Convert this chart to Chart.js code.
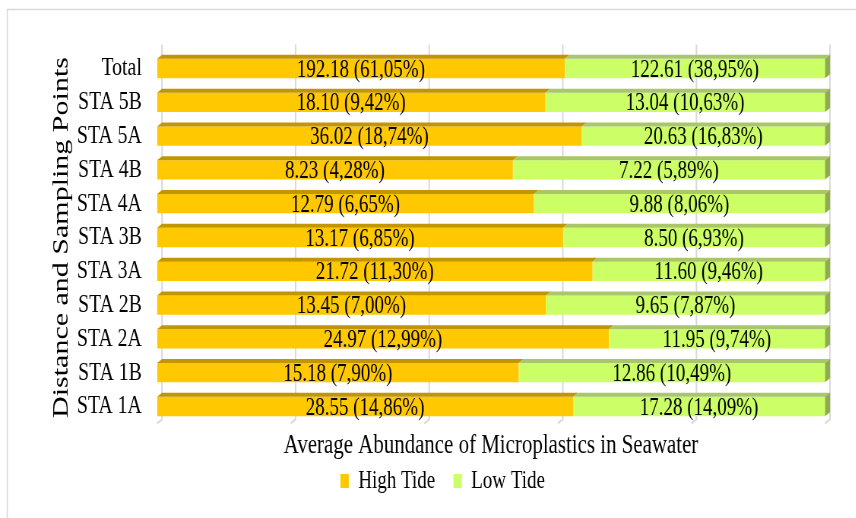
<!DOCTYPE html>
<html>
<head>
<meta charset="utf-8">
<script src="https://cdn.jsdelivr.net/npm/chart.js@4/dist/chart.umd.min.js"></script>
<style>
  html, body { margin: 0; padding: 0; background: #fff; overflow: hidden; }
  #wrap { width: 1126px; height: 518px; transform: scaleX(0.76); transform-origin: 0 0; }
</style>
</head>
<body>
<div id="wrap"><canvas id="c" width="1126" height="518"></canvas></div>
<script>
// Sampling stations, top to bottom
const stations = ['Total', 'STA 5B', 'STA 5A', 'STA 4B', 'STA 4A', 'STA 3B', 'STA 3A', 'STA 2B', 'STA 2A', 'STA 1B', 'STA 1A'];
// Average abundance at high tide and its share of the high-tide total (%)
const highTide    = [192.18, 18.10, 36.02, 8.23, 12.79, 13.17, 21.72, 13.45, 24.97, 15.18, 28.55];
const highTidePct = [61.05, 9.42, 18.74, 4.28, 6.65, 6.85, 11.30, 7.00, 12.99, 7.90, 14.86];
// Average abundance at low tide and its share of the low-tide total (%)
const lowTide     = [122.61, 13.04, 20.63, 7.22, 9.88, 8.50, 11.60, 9.65, 11.95, 12.86, 17.28];
const lowTidePct  = [38.95, 10.63, 16.83, 5.89, 8.06, 6.93, 9.46, 7.87, 9.74, 10.49, 14.09];
const seriesNames = ['High Tide', 'Low Tide'];

const FONT = "'Liberation Serif', 'Times New Roman', serif";
Chart.defaults.font.family = FONT;
Chart.defaults.color = '#000';

// each row is drawn as a 100% stacked bar
const rowTotal = stations.map((_, i) => highTide[i] + lowTide[i]);
const highShare = highTide.map((v, i) => v / rowTotal[i] * 100);
const lowShare = lowTide.map((v, i) => v / rowTotal[i] * 100);

const fmtLabel = (v, p) => v.toFixed(2) + ' (' + p.toFixed(2).replace('.', ',') + '%)';
const labelText = [
  highTide.map((v, i) => fmtLabel(v, highTidePct[i])),
  lowTide.map((v, i) => fmtLabel(v, lowTidePct[i]))
];

const DX = 6.6, DY = 4;            // depth of the 3-D bars
const topFace = ['#C29600', '#A9C76A'];
const sideFace = '#8DAD45';

const frame = {
  id: 'frame',
  beforeDraw(chart) {
    const { ctx, width, height } = chart;
    ctx.save();
    ctx.strokeStyle = '#D9D9D9';
    ctx.lineWidth = 1.6;
    ctx.beginPath();
    ctx.moveTo(9.5, height + 2);
    ctx.lineTo(9.5, 9.5);
    ctx.lineTo(width + 2, 9.5);
    ctx.stroke();
    ctx.restore();
  }
};

const bars3d = {
  id: 'bars3d',
  beforeDatasetsDraw(chart) {
    const { ctx, chartArea: a, scales: { x } } = chart;
    ctx.save();
    ctx.strokeStyle = '#D9D9D9';
    ctx.lineWidth = 2;
    x.ticks.forEach(t => {
      const px = x.getPixelForValue(t.value);
      ctx.beginPath();
      ctx.moveTo(px + DX, a.top - 7);
      ctx.lineTo(px + DX, a.bottom - DY);
      ctx.lineTo(px, a.bottom);
      ctx.stroke();
    });
    ctx.restore();
  },
  afterDatasetsDraw(chart) {
    const { ctx } = chart;
    const last = chart.data.datasets.length - 1;
    ctx.save();
    chart.data.datasets.forEach((ds, di) => {
      chart.getDatasetMeta(di).data.forEach((bar, i) => {
        const { x: xe, y, base, height } = bar.getProps(['x', 'y', 'base', 'height'], true);
        const l = Math.min(base, xe), r = Math.max(base, xe);
        const t = y - height / 2, b = y + height / 2;
        ctx.fillStyle = topFace[di];
        ctx.beginPath();
        ctx.moveTo(l, t); ctx.lineTo(r, t); ctx.lineTo(r + DX, t - DY); ctx.lineTo(l + DX, t - DY);
        ctx.closePath(); ctx.fill();
        if (di === last) {
          ctx.fillStyle = sideFace;
          ctx.beginPath();
          ctx.moveTo(r, t); ctx.lineTo(r + DX, t - DY); ctx.lineTo(r + DX, b - DY); ctx.lineTo(r, b);
          ctx.closePath(); ctx.fill();
        }
      });
    });
    ctx.font = '25px ' + FONT;
    ctx.fillStyle = '#000';
    ctx.textAlign = 'center';
    ctx.textBaseline = 'middle';
    chart.data.datasets.forEach((ds, di) => {
      chart.getDatasetMeta(di).data.forEach((bar, i) => {
        const { x: xe, y, base } = bar.getProps(['x', 'y', 'base'], true);
        ctx.fillText(labelText[di][i], (base + xe) / 2, y + 1.5);
      });
    });
    ctx.restore();
  }
};

new Chart(document.getElementById('c'), {
  type: 'bar',
  data: {
    labels: stations,
    datasets: [
      { label: seriesNames[0], data: highShare, backgroundColor: '#FFC800', borderWidth: 0 },
      { label: seriesNames[1], data: lowShare, backgroundColor: '#CCFF66', borderWidth: 0 }
    ]
  },
  options: {
    indexAxis: 'y',
    responsive: false,
    animation: false,
    devicePixelRatio: 1,
    datasets: { bar: { categoryPercentage: 1, barPercentage: 0.57 } },
    layout: { padding: { left: 79.5, right: 40.5, top: 51.6, bottom: 14.5 } },
    scales: {
      x: {
        stacked: true, min: 0, max: 100,
        grid: { display: false }, border: { display: false },
        ticks: { display: false, stepSize: 20 },
        title: {
          display: true, text: 'Average Abundance of Microplastics in Seawater',
          font: { size: 27.5 }, color: '#000', padding: { top: 0, bottom: -17.7 }
        },
        afterFit(s) { s.height = 21.1; }
      },
      y: {
        stacked: true,
        grid: { display: false }, border: { display: false },
        ticks: { font: { size: 26 }, color: '#000', padding: 12, autoSkip: false },
        title: {
          display: true, text: 'Distance and Sampling Points',
          font: { size: 30 }, color: '#000', padding: { top: -15.9, bottom: 0 }
        },
        afterFit(s) { s.width = 127.1; }
      }
    },
    plugins: {
      legend: {
        position: 'bottom',
        labels: { font: { size: 25 }, color: '#000', boxWidth: 11, boxHeight: 14, padding: 24 }
      },
      tooltip: { enabled: false }
    }
  },
  plugins: [frame, bars3d]
});
</script>
</body>
</html>
